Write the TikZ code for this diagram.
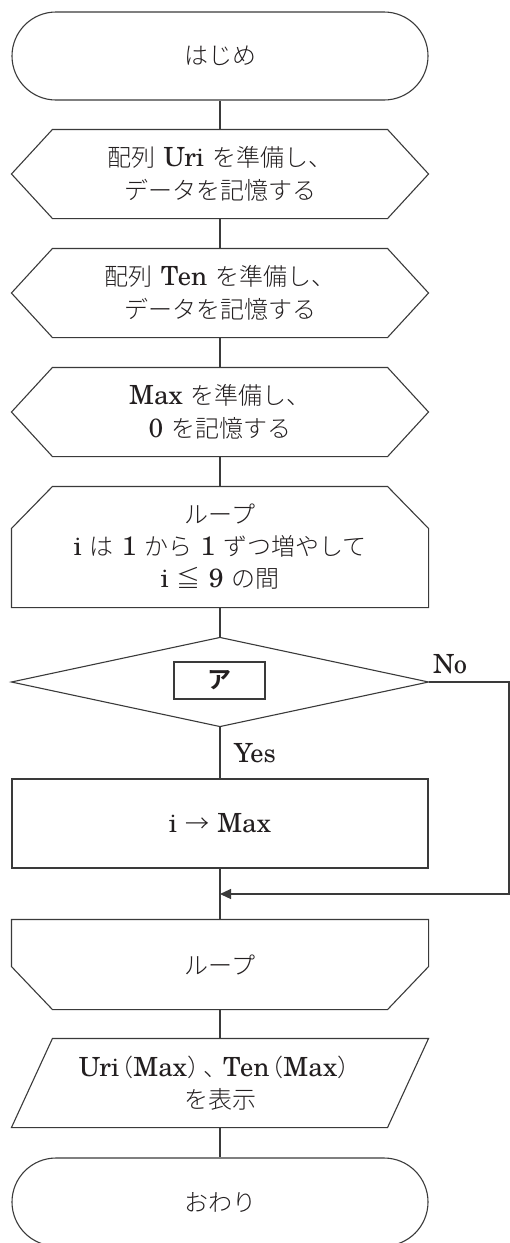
\documentclass[tikz,border=0pt]{standalone}
\usepackage{fontspec}
\setmainfont{Noto Sans CJK JP}[UprightFont=* Light, BoldFont=* Bold]
\newfontfamily\lat[Scale=1.1, Extension=.otf]{texgyreschola-regular}
\usetikzlibrary{shapes.misc,calc,arrows.meta}
\definecolor{ink}{HTML}{231F20}
\definecolor{stroke}{HTML}{3A3A3A}
\tikzset{
  txt/.style={font=\fontsize{24}{33}\selectfont, align=center, text=ink},
  box/.style={rectangle, minimum width=416pt, minimum height=88pt, inner sep=0pt, txt},
  term/.style={rounded rectangle, draw, minimum width=416pt, minimum height=88pt, inner sep=0pt, txt},
  lbl/.style={font=\fontsize{24}{24}\selectfont\lat, text=ink, inner sep=0pt},
}
\newcommand\gp{\hspace{8pt}}
\newcommand\lp{\hspace{-10pt}（}
\newcommand\rp{）\hspace{-10pt}}
\newcommand\hexapath[1]{%
  \draw ($(#1.north west)+(41,0)$) -- ($(#1.north east)+(-41,0)$) -- (#1.east)
    -- ($(#1.south east)+(-41,0)$) -- ($(#1.south west)+(41,0)$) -- (#1.west) -- cycle;}
\begin{document}
\begin{tikzpicture}[x=1pt,y=1pt, line width=1.1pt, color=stroke]
\useasboundingbox (0,0) rectangle (510,-1243);

\node[term] (start) at (220,-56) {はじめ};

\node[box] (p1) at (220,-174) {配列\gp{\lat Uri}\gp を準備し、\\データを記憶する};
\hexapath{p1}
\node[box] (p2) at (220,-293) {配列\gp{\lat Ten}\gp を準備し、\\データを記憶する};
\hexapath{p2}
\node[box] (p3) at (220,-412) {{\lat Max}\gp を準備し、\\{\lat 0}\gp を記憶する};
\hexapath{p3}

\node[box, minimum height=120pt, font=\fontsize{24}{32}\selectfont] (ls) at (220,-547)
  {ループ\\{\lat i}\gp は\gp{\lat 1}\gp から\gp{\lat 1}\gp ずつ増やして\\{\lat i}\gp ≦\gp{\lat 9}\gp の間};
\draw (ls.south west) -- ($(ls.north west)+(0,-42)$) -- ($(ls.north west)+(41,0)$)
  -- ($(ls.north east)+(-41,0)$) -- ($(ls.north east)+(0,-42)$) -- (ls.south east) -- cycle;

\node[box] (dec) at (220,-682) {};
\draw (dec.north) -- (dec.east) -- (dec.south) -- (dec.west) -- cycle;
\node[draw, minimum width=91pt, minimum height=37pt, inner sep=0pt,
  font=\fontsize{24}{24}\selectfont\bfseries, text=ink] (qa) at (219.5,-680.5) {ア};

\node[lbl] (no) at (450,-664) {No};
\node[lbl] (yes) at (255,-753) {Yes};

\node[box, draw, minimum height=89pt] (proc) at (220,-823.5) {{\lat i}\gp →\gp{\lat Max}};

\coordinate (merge) at (220,-894);
\coordinate (noR) at (509,-894);

\node[box, minimum height=89pt] (le) at (220,-964.5) {ループ};
\draw (le.north west) -- (le.north east) -- ($(le.south east)+(0,43)$)
  -- ($(le.south east)+(-41,0)$) -- ($(le.south west)+(41,0)$)
  -- ($(le.south west)+(0,43)$) -- cycle;

\node[box, font=\fontsize{24}{32}\selectfont] (io) at (220,-1083)
  {{\lat Uri}\lp{\lat Max}\rp\hspace{2pt}、\hspace{-4pt}{\lat Ten}\lp{\lat Max}\rp\\を表示};
\draw ($(io.north west)+(41,0)$) -- (io.north east) -- ($(io.south east)+(-41,0)$)
  -- (io.south west) -- cycle;

\node[term] (fin) at (220,-1202) {おわり};

% connectors
\draw (start.south) -- (p1.north);
\draw (p1.south) -- (p2.north);
\draw (p2.south) -- (p3.north);
\draw (p3.south) -- (ls.north);
\draw (ls.south) -- (dec.north);
\draw (dec.south) -- (proc.north);
\draw (proc.south) -- (le.north);
\draw[-{Triangle[length=11pt,width=10pt]}] (dec.east) -| (noR) -- (merge);
\draw (le.south) -- (io.north);
\draw (io.south) -- (fin.north);
\end{tikzpicture}
\end{document}
